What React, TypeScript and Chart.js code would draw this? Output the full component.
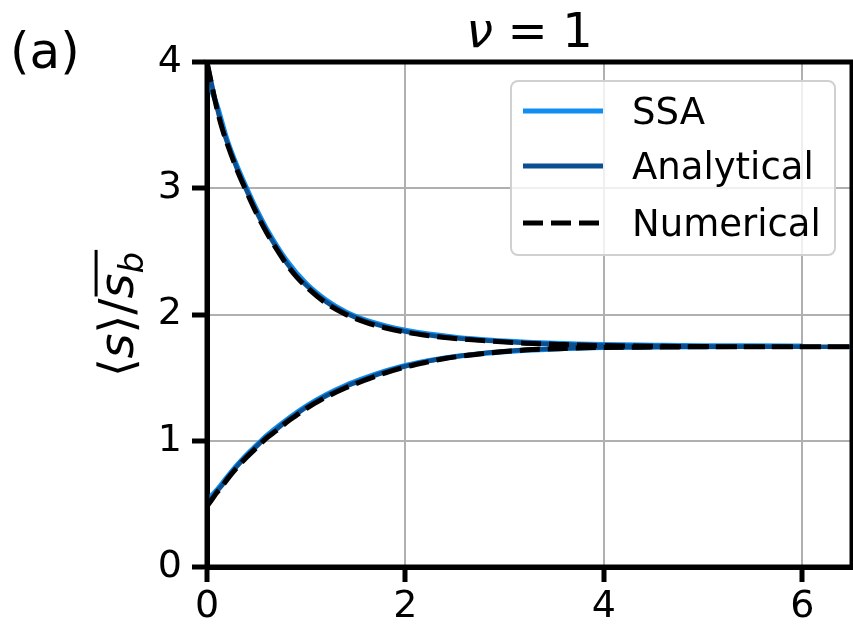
import { useEffect, useRef } from "react";
import { Chart, registerables } from "chart.js";

Chart.register(...registerables);

const FONT = "'DejaVu Sans', sans-serif";

// time axis of the deterministic curves
const timeGrid = [0, 0.05, 0.1, 0.15, 0.2, 0.3, 0.4, 0.5, 0.6, 0.7, 0.8, 0.9, 1.0, 1.2, 1.4, 1.6, 1.8, 2.0, 2.2, 2.4, 2.8, 3.2, 3.6, 4.0, 4.5, 5.0, 6.0, 6.5];

// analytical solution, starting above and below the steady state
const upperAnalytical = [4.0, 3.82, 3.64, 3.49, 3.37, 3.16, 2.98, 2.81, 2.66, 2.53, 2.41, 2.31, 2.23, 2.1, 2.01, 1.945, 1.9, 1.865, 1.84, 1.82, 1.795, 1.775, 1.763, 1.755, 1.75, 1.747, 1.745, 1.745];
const lowerAnalytical = [0.49, 0.545, 0.6, 0.645, 0.7, 0.795, 0.88, 0.955, 1.03, 1.09, 1.155, 1.21, 1.265, 1.355, 1.43, 1.49, 1.545, 1.59, 1.625, 1.655, 1.695, 1.72, 1.733, 1.74, 1.743, 1.745, 1.745, 1.745];

// numerical integration of the same moment equations
const upperNumerical = [4.0, 3.81, 3.63, 3.48, 3.36, 3.15, 2.97, 2.8, 2.65, 2.52, 2.4, 2.3, 2.22, 2.09, 2.0, 1.938, 1.893, 1.86, 1.836, 1.817, 1.792, 1.773, 1.762, 1.754, 1.749, 1.746, 1.744, 1.744];
const lowerNumerical = [0.48, 0.535, 0.59, 0.635, 0.69, 0.785, 0.87, 0.945, 1.02, 1.08, 1.145, 1.2, 1.255, 1.345, 1.42, 1.482, 1.538, 1.584, 1.62, 1.651, 1.692, 1.718, 1.731, 1.739, 1.742, 1.744, 1.744, 1.744];

// stochastic simulation averages
const ssaTime = [0, 0.1, 0.2, 0.3, 0.4, 0.5, 0.6, 0.8, 1.0, 1.2, 1.4, 1.6, 1.8, 2.0, 2.5, 3.0, 3.5, 4.0, 4.5, 5.0, 5.5, 6.0];
const upperSSA = [3.86, 3.66, 3.39, 3.18, 3.0, 2.83, 2.68, 2.43, 2.245, 2.115, 2.02, 1.955, 1.91, 1.875, 1.82, 1.79, 1.772, 1.762, 1.757, 1.753, 1.752, 1.75];
const lowerSSA = [0.53, 0.61, 0.71, 0.805, 0.89, 0.965, 1.04, 1.165, 1.275, 1.365, 1.44, 1.5, 1.553, 1.597, 1.667, 1.705, 1.727, 1.738, 1.742, 1.745, 1.746, 1.747];

const seriesLabels = ["SSA", "Analytical", "Numerical"];
const seriesColors = ["#118ef0", "#0a5090", "#000000"];

const xTicks = [0, 2, 4, 6];
const yTicks = [0, 1, 2, 3, 4];
const xRange = [0, 6.5];
const yRange = [0, 4];
const panelTag = "(a)";

type Pt = { x: number; y: number | null };

// both branches in one dataset, separated by a gap
function joinBranches(t: number[], upper: number[], lower: number[]): Pt[] {
  const a: Pt[] = t.map((x, i) => ({ x, y: upper[i] }));
  const b: Pt[] = t.map((x, i) => ({ x, y: lower[i] }));
  return [...a, { x: t[t.length - 1], y: null }, ...b];
}

const decorations = {
  id: "decorations",
  afterDatasetsDraw(chart: any) {
    const { ctx, chartArea: a } = chart;
    ctx.save();
    // frame
    ctx.strokeStyle = "#000";
    ctx.lineWidth = 5;
    ctx.strokeRect(a.left, a.top, a.right - a.left, a.bottom - a.top);

    // legend box
    const bx = 511, by = 81, bw = 324, bh = 174;
    ctx.beginPath();
    ctx.roundRect(bx, by, bw, bh, 7);
    ctx.fillStyle = "rgba(255,255,255,0.8)";
    ctx.fill();
    ctx.strokeStyle = "#d0d0d0";
    ctx.lineWidth = 2;
    ctx.stroke();

    const rows = [111, 166, 223];
    chart.data.datasets.forEach((ds: any, i: number) => {
      const y = rows[i];
      ctx.beginPath();
      ctx.setLineDash(ds.borderDash || []);
      ctx.strokeStyle = ds.borderColor;
      ctx.lineWidth = 5;
      ctx.moveTo(523, y);
      ctx.lineTo(603, y);
      ctx.stroke();
      ctx.setLineDash([]);
      ctx.fillStyle = "#000";
      ctx.font = `37px ${FONT}`;
      ctx.textBaseline = "alphabetic";
      ctx.textAlign = "left";
      ctx.fillText(ds.label, 632, y + 13);
    });
    ctx.restore();
  },
  afterDraw(chart: any) {
    const { ctx, chartArea: a } = chart;
    ctx.save();
    ctx.fillStyle = "#000";
    ctx.textBaseline = "alphabetic";
    ctx.textAlign = "left";

    // panel tag
    ctx.font = `50px ${FONT}`;
    ctx.fillText(panelTag, 10, 68);

    // title: ν = 1
    const tf = 48;
    const parts = [
      { s: "\u03bd", f: `italic ${tf}px ${FONT}` },
      { s: "=", f: `${tf}px ${FONT}` },
      { s: "1", f: `${tf}px ${FONT}` },
    ];
    const gap = 0.3 * tf;
    let total = 0;
    const widths = parts.map((p) => {
      ctx.font = p.f;
      const w = ctx.measureText(p.s).width;
      total += w;
      return w;
    });
    total += gap * 2;
    let x = (a.left + a.right) / 2 - total / 2;
    parts.forEach((p, i) => {
      ctx.font = p.f;
      ctx.fillText(p.s, x, 47);
      x += widths[i] + (i < parts.length - 1 ? gap : 0);
    });

    // y axis label: ⟨s⟩ / overline(s_b)
    const F = 48;
    ctx.translate(133, (a.top + a.bottom) / 2);
    ctx.rotate(-Math.PI / 2);
    const pieces = [
      { s: "\u27e8", f: `${F}px ${FONT}`, dy: 0 },
      { s: "s", f: `italic ${F}px ${FONT}`, dy: 0 },
      { s: "\u27e9", f: `${F}px ${FONT}`, dy: 0 },
      { s: "/", f: `${F}px ${FONT}`, dy: 0 },
      { s: "s", f: `italic ${F}px ${FONT}`, dy: 0 },
      { s: "b", f: `italic ${Math.round(F * 0.7)}px ${FONT}`, dy: 0.2 * F },
    ];
    let lw = 0;
    const pw = pieces.map((p) => {
      ctx.font = p.f;
      const w = ctx.measureText(p.s).width;
      lw += w;
      return w;
    });
    let px = -lw / 2;
    let olStart = 0;
    pieces.forEach((p, i) => {
      if (i === 4) olStart = px;
      ctx.font = p.f;
      ctx.fillText(p.s, px, p.dy);
      px += pw[i];
    });
    ctx.fillRect(olStart + 2, -0.8 * F, px - olStart, 3);
    ctx.restore();
  },
};

export default function App() {
  const ref = useRef<HTMLCanvasElement | null>(null);

  useEffect(() => {
    if (!ref.current) return;
    const tickFont = { family: FONT, size: 38 };
    const chart = new Chart(ref.current, {
      type: "line",
      data: {
        datasets: [
          {
            label: seriesLabels[0],
            data: joinBranches(ssaTime, upperSSA, lowerSSA),
            borderColor: seriesColors[0],
            borderWidth: 5,
            order: 3,
          },
          {
            label: seriesLabels[1],
            data: joinBranches(timeGrid, upperAnalytical, lowerAnalytical),
            borderColor: seriesColors[1],
            borderWidth: 4.5,
            order: 2,
          },
          {
            label: seriesLabels[2],
            data: joinBranches(timeGrid, upperNumerical, lowerNumerical),
            borderColor: seriesColors[2],
            borderWidth: 5,
            borderDash: [20, 8],
            order: 1,
          },
        ],
      },
      options: {
        responsive: false,
        animation: false,
        events: [],
        spanGaps: false,
        layout: { padding: { top: 62, right: 1, left: 0, bottom: 0 } },
        elements: {
          point: { radius: 0 },
          line: { cubicInterpolationMode: "monotone", borderCapStyle: "butt" },
        },
        plugins: { legend: { display: false }, tooltip: { enabled: false } },
        scales: {
          x: {
            type: "linear",
            min: xRange[0],
            max: xRange[1],
            afterBuildTicks: (axis: any) => {
              axis.ticks = xTicks.map((v) => ({ value: v }));
            },
            afterFit: (axis: any) => {
              axis.height = 58;
            },
            ticks: { font: tickFont, color: "#000", padding: 2, maxRotation: 0, callback: (v: any) => String(v) },
            grid: { color: "#b0b0b0", lineWidth: 2, tickLength: 15, tickWidth: 5, tickColor: "#000" },
            border: { color: "#000", width: 5 },
          },
          y: {
            type: "linear",
            min: yRange[0],
            max: yRange[1],
            afterBuildTicks: (axis: any) => {
              axis.ticks = yTicks.map((v) => ({ value: v }));
            },
            afterFit: (axis: any) => {
              axis.width = 207;
            },
            ticks: { font: tickFont, color: "#000", padding: 10, callback: (v: any) => String(v) },
            grid: { color: "#b0b0b0", lineWidth: 2, tickLength: 15, tickWidth: 5, tickColor: "#000" },
            border: { color: "#000", width: 5 },
          },
        },
      },
      plugins: [decorations],
    });
    return () => chart.destroy();
  }, []);

  return (
    <div style={{ position: "absolute", left: 0, top: 0, width: 853, height: 625, background: "#fff" }}>
      <canvas ref={ref} width={853} height={625} style={{ display: "block" }} />
    </div>
  );
}
